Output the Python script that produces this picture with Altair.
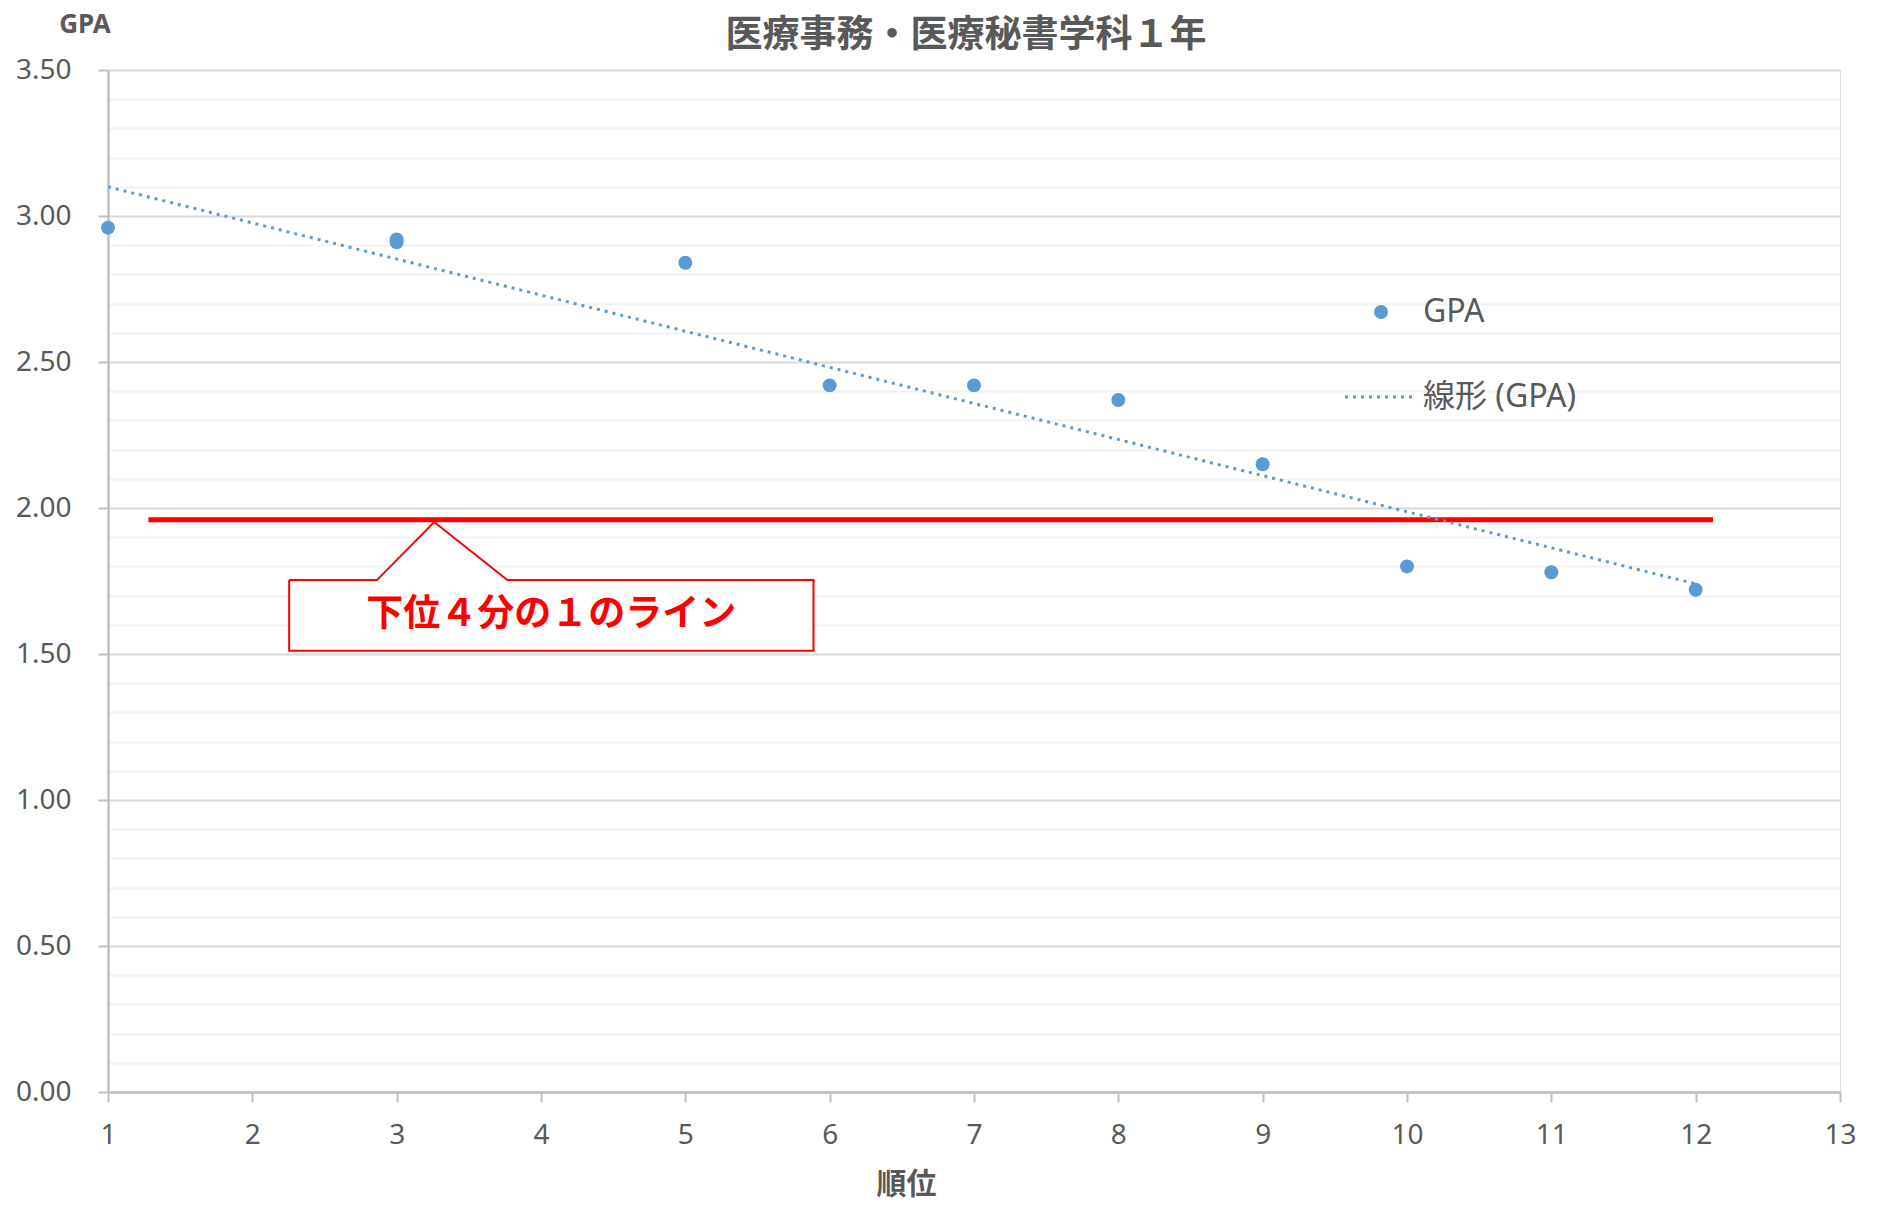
import altair as alt
import pandas as pd

# ---- data ----
rank = [1, 3, 3, 5, 6, 7, 8, 9, 10, 11, 12]
gpa = [2.96, 2.92, 2.91, 2.84, 2.42, 2.42, 2.37, 2.15, 1.80, 1.78, 1.72]

trend_rank = [1, 12]
trend_gpa = [3.10, 1.74]

quartile_gpa = 1.96
quartile_rank = [1.28, 12.12]

callout_box_rank = [2.255, 5.888]
callout_box_gpa = [1.511, 1.753]
callout_pointer_rank = [2.863, 3.26, 3.767]
callout_pointer_gpa = [1.753, 1.952, 1.753]
callout_text = "下位４分の１のライン"

title_text = "医療事務・医療秘書学科１年"
x_title = "順位"
y_title = "GPA"
legend_points = "GPA"
legend_trend = "線形 (GPA)"

x_ticks = list(range(1, 14))
y_ticks = [round(i * 0.1, 1) for i in range(36)]

# ---- styling ----
BLUE = "#5b9bd5"
GRAY_TEXT = "#595959"
AXIS_GRAY = "#bfbfbf"
FONT = "Noto Sans, Noto Sans CJK JP"
CJK = "Noto Sans CJK JP"
W, H = 1732, 1022

xscale = alt.Scale(domain=[1, 13], nice=False, zero=False)
yscale = alt.Scale(domain=[0, 3.5], nice=False, zero=True)

major = "abs(datum.value * 2 - round(datum.value * 2)) < 0.001"

yaxis = alt.Axis(
    values=y_ticks,
    title=None,
    labelExpr=f"({major}) ? format(datum.value, '.2f') : ''",
    labelFont=FONT, labelFontSize=28, labelColor=GRAY_TEXT,
    labelPadding=27, labelOverlap=False, labelFlush=False, labelBound=False,
    grid=True,
    gridColor={"condition": {"test": major, "value": "#d9d9d9"}, "value": "#f2f2f2"},
    gridWidth=2,
    ticks=True, tickSize=10, tickColor=AXIS_GRAY, tickWidth=2,
    tickOpacity={"condition": {"test": major, "value": 1}, "value": 0},
    domain=True, domainColor=AXIS_GRAY, domainWidth=2.5,
)

xaxis = alt.Axis(
    values=x_ticks, format="d",
    title=x_title,
    titleFont=CJK, titleFontSize=30, titleFontWeight="bold", titleColor=GRAY_TEXT,
    titleX=798, titleY=92, titleAlign="center", titleBaseline="middle", titleAngle=0,
    labelFont=FONT, labelFontSize=28, labelColor=GRAY_TEXT, labelPadding=19,
    labelOverlap=False, labelFlush=False,
    grid=False,
    ticks=True, tickSize=10, tickColor=AXIS_GRAY, tickWidth=2,
    domain=True, domainColor=AXIS_GRAY, domainWidth=2.5,
)

df = pd.DataFrame({"rank": rank, "gpa": gpa})
trend_df = pd.DataFrame({"rank": trend_rank, "gpa": trend_gpa})
quart_df = pd.DataFrame({"rank": [quartile_rank[0]], "rank2": [quartile_rank[1]], "gpa": [quartile_gpa]})

box_df = pd.DataFrame({
    "rank": [callout_box_rank[0]], "rank2": [callout_box_rank[1]],
    "gpa": [callout_box_gpa[0]], "gpa2": [callout_box_gpa[1]],
})
pointer_df = pd.DataFrame({
    "rank": callout_pointer_rank, "gpa": callout_pointer_gpa,
    "gpa2": [callout_box_gpa[1]] * 3,
})
path_x = [callout_box_rank[0], callout_pointer_rank[0], callout_pointer_rank[1],
          callout_pointer_rank[2], callout_box_rank[1], callout_box_rank[1],
          callout_box_rank[0], callout_box_rank[0]]
path_y = [callout_box_gpa[1], callout_pointer_gpa[0], callout_pointer_gpa[1],
          callout_pointer_gpa[2], callout_box_gpa[1], callout_box_gpa[0],
          callout_box_gpa[0], callout_box_gpa[1]]
path_df = pd.DataFrame({"rank": path_x, "gpa": path_y, "i": list(range(len(path_x)))})
text_df = pd.DataFrame({
    "rank": [sum(callout_box_rank) / 2], "gpa": [sum(callout_box_gpa) / 2],
    "t": [callout_text],
})
one = pd.DataFrame({"a": [0]})


def X(f):
    return alt.X(f, scale=xscale, axis=xaxis)


def Y(f):
    return alt.Y(f, scale=yscale, axis=yaxis)


points = alt.Chart(df).mark_circle(size=195, color=BLUE, opacity=1).encode(
    x=X("rank:Q"), y=Y("gpa:Q"),
)

trend = alt.Chart(trend_df).mark_line(
    color=BLUE, strokeWidth=3, strokeDash=[3, 5]
).encode(x=X("rank:Q"), y=Y("gpa:Q"))

quart = alt.Chart(quart_df).mark_rule(color="#ff0000", strokeWidth=5).encode(
    x=X("rank:Q"), x2="rank2:Q", y=Y("gpa:Q")
)

box_fill = alt.Chart(box_df).mark_rect(fill="white", strokeWidth=0).encode(
    x=X("rank:Q"), x2="rank2:Q", y=Y("gpa:Q"), y2="gpa2:Q",
)
pointer_fill = alt.Chart(pointer_df).mark_area(color="white", opacity=1).encode(
    x=X("rank:Q"), y=Y("gpa:Q"), y2="gpa2:Q"
)
outline = alt.Chart(path_df).mark_line(color="#ff0000", strokeWidth=2).encode(
    x=X("rank:Q"), y=Y("gpa:Q"), order="i:Q"
)
callout_label = alt.Chart(text_df).mark_text(
    font=CJK, fontSize=37, fontWeight="bold", color="#ff0000",
    align="center", baseline="middle",
).encode(x=X("rank:Q"), y=Y("gpa:Q"), text="t:N")

# chart title and y-axis caption
title_mark = alt.Chart(one).mark_text(
    text=title_text, font=CJK, fontSize=37, fontWeight="bold", color=GRAY_TEXT,
    align="center", baseline="middle",
).encode(x=alt.value(858), y=alt.value(-34))

y_cap = alt.Chart(one).mark_text(
    text=y_title, font=FONT, fontSize=26, fontWeight="bold", color=GRAY_TEXT,
    align="center", baseline="middle",
).encode(x=alt.value(-23), y=alt.value(-45))

# legend
leg_dot = alt.Chart(one).mark_circle(size=195, color=BLUE, opacity=1).encode(
    x=alt.value(1273), y=alt.value(242)
)
leg_line = alt.Chart(one).mark_rule(color=BLUE, strokeWidth=3, strokeDash=[3, 5]).encode(
    x=alt.value(1237), x2=alt.value(1305), y=alt.value(327)
)
leg_t1 = alt.Chart(one).mark_text(
    text=legend_points, font=FONT, fontSize=32, color=GRAY_TEXT, align="left", baseline="middle"
).encode(x=alt.value(1315), y=alt.value(242))
leg_t2 = alt.Chart(one).mark_text(
    text=legend_trend, font=FONT, fontSize=32, color=GRAY_TEXT, align="left", baseline="middle"
).encode(x=alt.value(1315), y=alt.value(327))

chart = alt.layer(
    points, quart, box_fill, pointer_fill, outline, callout_label, trend,
    title_mark, y_cap, leg_dot, leg_line, leg_t1, leg_t2,
).properties(
    width=W, height=H,
    autosize=alt.AutoSizeParams(type="none"),
    padding={"left": 100, "top": 62, "right": 20, "bottom": 108},
).configure_view(stroke=None).configure(background="white")

chart.save("out.html", embed_options={"renderer": "svg", "actions": False})
